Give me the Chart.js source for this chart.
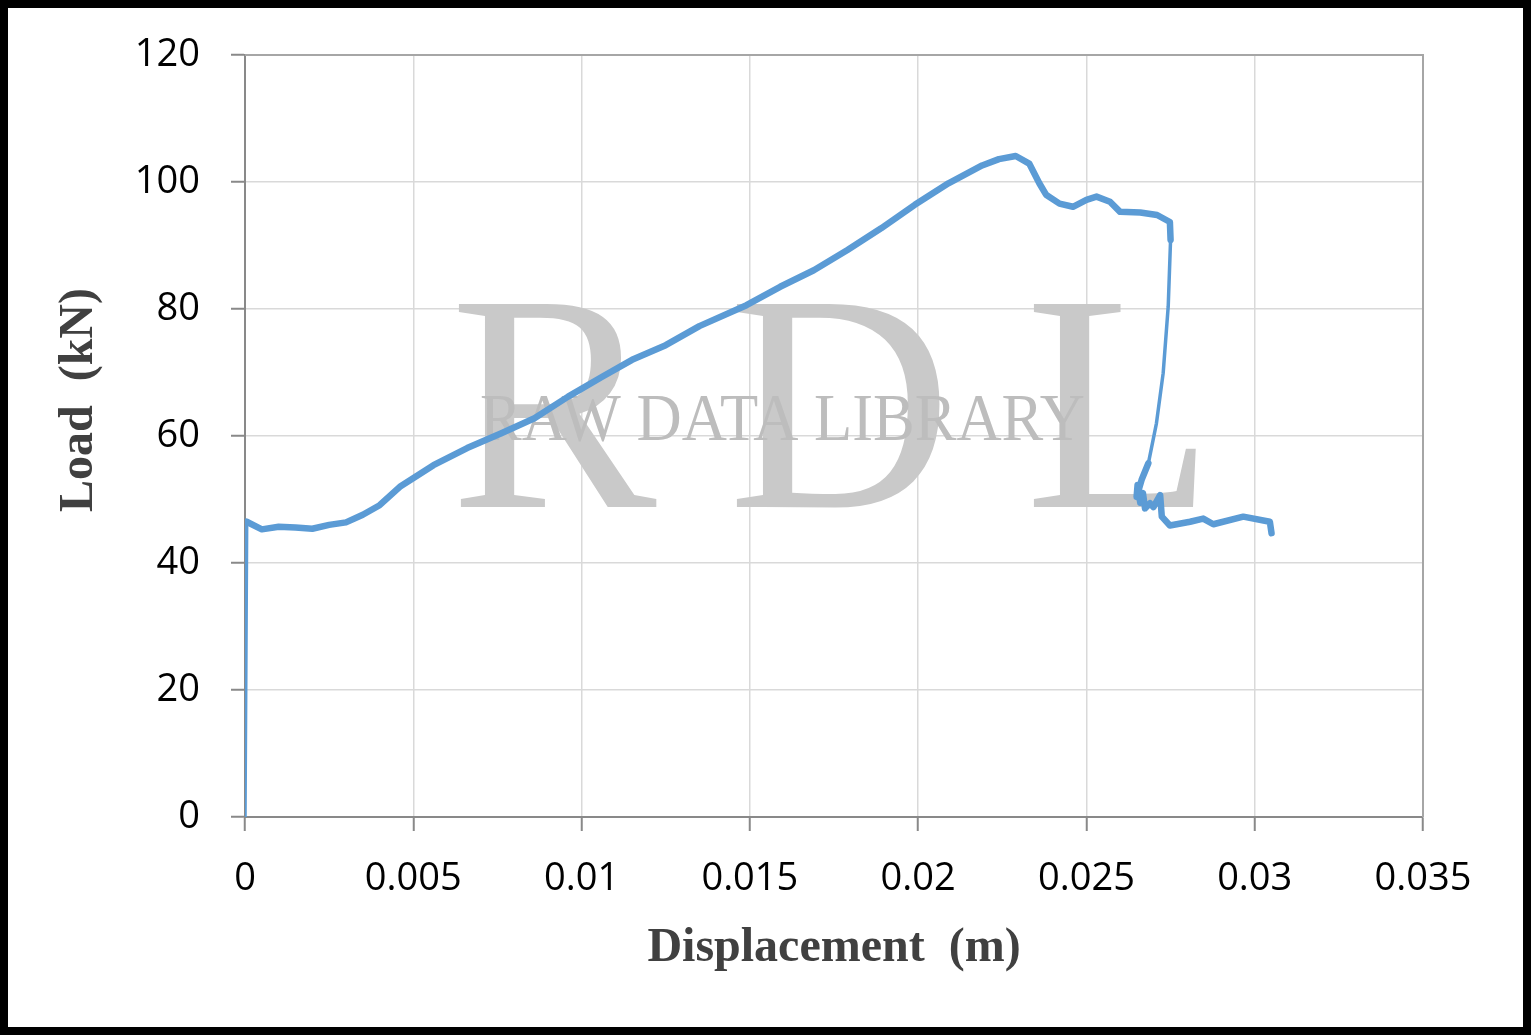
<!DOCTYPE html>
<html>
<head>
<meta charset="utf-8">
<script src="https://cdn.jsdelivr.net/npm/chart.js@4.4.1/dist/chart.umd.min.js"></script>
<style>
    html, body { margin: 0; padding: 0; background: #fff; }
    #frame {
        width: 1531px;
        height: 1035px;
        box-sizing: border-box;
        border: 8px solid #000;
        background: #fff;
    }
    #wrap { width: 1515px; height: 1019px; position: relative; }
</style>
</head>
<body>
<div id="frame">
    <div id="wrap"><canvas id="loadChart"></canvas></div>
</div>
<script>
// Datos: desplazamiento (m) y carga (kN)
const displacement = [
    0, 0.00005, 0.0005, 0.001, 0.0015, 0.002, 0.0025, 0.003, 0.0035, 0.004,
    0.0046, 0.0056, 0.0066, 0.0076, 0.0086, 0.0096, 0.0106, 0.0115, 0.0125, 0.0135,
    0.0149, 0.0159, 0.0169, 0.0179, 0.0189, 0.0199, 0.0209, 0.0219, 0.0224, 0.0229,
    0.0233, 0.0236, 0.0238, 0.0242, 0.0246, 0.0250, 0.0253, 0.0257, 0.0260, 0.0266,
    0.0271, 0.02748, 0.02750, 0.02743, 0.02728, 0.02708, 0.02684, 0.02664, 0.02649, 0.02652,
    0.02660, 0.02668, 0.02674, 0.02689, 0.02699, 0.02719, 0.02724, 0.02748, 0.02808, 0.02847,
    0.02877, 0.02966, 0.03045, 0.0305
];
const load = [
    0, 46.5, 45.3, 45.7, 45.6, 45.4, 46.0, 46.4, 47.6, 49.1,
    52.0, 55.4, 58.1, 60.4, 62.8, 66.2, 69.3, 72.0, 74.3, 77.3,
    80.6, 83.5, 86.1, 89.3, 92.7, 96.4, 99.8, 102.6, 103.6, 104.1,
    102.9, 99.8, 98.0, 96.6, 96.1, 97.2, 97.7, 96.9, 95.3, 95.2,
    94.8, 93.7, 90.9, 80.4, 69.9, 62.0, 55.7, 53.1, 50.4, 52.3,
    49.5, 51.0, 48.6, 49.4, 48.8, 50.7, 47.3, 45.9, 46.5, 47.0,
    46.1, 47.3, 46.5, 44.7
];
const xTicks = [0, 0.005, 0.01, 0.015, 0.02, 0.025, 0.03, 0.035];
const yTicks = [0, 20, 40, 60, 80, 100, 120];
const xTitle = 'Displacement  (m)';
const yTitle = 'Load  (kN)';

const axisGray = '#898989';
const gridGray = '#d9d9d9';
const titleFont = { family: '"Liberation Serif", "Times New Roman", serif', size: 48, weight: 'bold' };
const tickFont = { family: '"Open Sans", sans-serif', size: 38 };

// Marca de agua, marco del área y título del eje Y
const extras = {
    id: 'extras',
    beforeDatasetsDraw(chart) {
        const ctx = chart.ctx;
        ctx.save();
        ctx.fillStyle = '#c9c9c9';
        ctx.font = '310px "Liberation Serif", serif';
        ctx.textBaseline = 'alphabetic';
        ctx.textAlign = 'left';
        ctx.fillText('R', 442, 499);
        ctx.fillText('D', 720, 499);
        ctx.fillText('L', 1017, 499);
        ctx.font = '68px "Liberation Serif", serif';
        const txt = 'RAW DATA LIBRARY';
        const w = ctx.measureText(txt).width;
        ctx.translate(472, 432);
        ctx.scale(605 / w, 1);
        ctx.fillStyle = '#bdbdbd';
        ctx.fillText(txt, 0, 0);
        ctx.restore();
    },
    afterDraw(chart) {
        const a = chart.chartArea;
        const ctx = chart.ctx;
        ctx.save();
        ctx.strokeStyle = '#a6a6a6';
        ctx.lineWidth = 2;
        ctx.beginPath();
        ctx.moveTo(a.left, a.top);
        ctx.lineTo(a.right, a.top);
        ctx.lineTo(a.right, a.bottom);
        ctx.stroke();

        ctx.translate(72, 392);
        ctx.rotate(-Math.PI / 2);
        ctx.font = `bold ${titleFont.size}px ${titleFont.family}`;
        ctx.fillStyle = '#404040';
        ctx.textAlign = 'center';
        ctx.textBaseline = 'middle';
        ctx.fillText(yTitle, 0, 0);
        ctx.restore();
    }
};

document.addEventListener('DOMContentLoaded', function() {
    const points = displacement.map((d, i) => ({ x: d, y: load[i] }));
    const ctx = document.getElementById('loadChart').getContext('2d');

    new Chart(ctx, {
        type: 'scatter',
        data: {
            datasets: [{
                data: points,
                showLine: true,
                borderColor: '#5b9bd5',
                borderWidth: 6.5,
                pointRadius: 0,
                tension: 0,
                borderJoinStyle: 'round',
                borderCapStyle: 'round',
                segment: {
                    borderWidth: c => Math.abs(c.p1.parsed.y - c.p0.parsed.y) > 5 ? 3.5 : 6.5
                }
            }]
        },
        options: {
            responsive: true,
            maintainAspectRatio: false,
            animation: false,
            layout: { padding: { top: 47, right: 100, left: 0, bottom: 0 } },
            plugins: { legend: { display: false }, tooltip: { enabled: false } },
            scales: {
                x: {
                    type: 'linear',
                    min: 0,
                    max: 0.035,
                    afterBuildTicks: s => { s.ticks = xTicks.map(v => ({ value: v })); },
                    afterFit: s => { s.height = 210; },
                    grid: { color: gridGray, lineWidth: 1.5, tickLength: 14, tickColor: axisGray, tickWidth: 2 },
                    border: { color: axisGray, width: 2 },
                    ticks: {
                        color: '#000',
                        font: tickFont,
                        padding: 25,
                        maxRotation: 0,
                        callback: v => String(+v.toFixed(3))
                    },
                    title: {
                        display: true,
                        text: xTitle,
                        color: '#404040',
                        font: titleFont,
                        padding: { top: 0, bottom: 50 }
                    }
                },
                y: {
                    min: 0,
                    max: 120,
                    afterBuildTicks: s => { s.ticks = yTicks.map(v => ({ value: v })); },
                    afterFit: s => { s.width = 237; s.paddingTop = 0; s.paddingBottom = 0; },
                    grid: { color: gridGray, lineWidth: 1.5, tickLength: 14, tickColor: axisGray, tickWidth: 2 },
                    border: { color: axisGray, width: 2 },
                    ticks: { color: '#000', font: tickFont, padding: 31 },
                    title: { display: false }
                }
            }
        },
        plugins: [extras]
    });
});
</script>
</body>
</html>
